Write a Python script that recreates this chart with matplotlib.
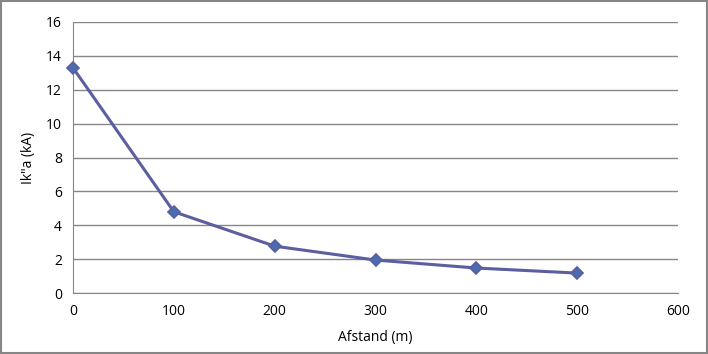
import matplotlib.pyplot as plt
from matplotlib.patches import Rectangle

afstand = [0, 100, 200, 300, 400, 500]
ik_a = [13.3, 4.8, 2.77, 1.95, 1.48, 1.18]
x_ticks = [0, 100, 200, 300, 400, 500, 600]
y_ticks = [0, 2, 4, 6, 8, 10, 12, 14, 16]

plt.rcParams['font.family'] = ['Open Sans', 'DejaVu Sans']

fig = plt.figure(figsize=(7.08, 3.54), dpi=100)
ax = fig.add_axes([0.103, 0.172, 0.855, 0.766])

ax.plot(afstand, ik_a, color='#5b5ea0', linewidth=2.2,
        marker='D', markersize=6.5, markerfacecolor='#4a6db0',
        markeredgecolor='#5b5ea0', markeredgewidth=1.2, zorder=3,
        clip_on=False)

ax.set_xlim(0, 600)
ax.set_ylim(0, 16)
ax.set_xticks(x_ticks)
ax.set_yticks(y_ticks)
ax.yaxis.grid(True, color='#868686', linewidth=1)
ax.set_axisbelow(True)
for s in ['top', 'right']:
    ax.spines[s].set_visible(False)
for s in ['left', 'bottom']:
    ax.spines[s].set_color('#868686')
ax.tick_params(length=0, labelsize=10, pad=8)
ax.set_xlabel('Afstand (m)', fontsize=10, labelpad=8)
ax.set_ylabel('Ik"a (kA)', fontsize=10, labelpad=7)

# ramme om hele figuren
fig.patches.append(Rectangle((0.001, 0.002), 0.997, 0.995, transform=fig.transFigure,
                             fill=False, edgecolor='#868686', linewidth=1.5))

fig.savefig('out.png', dpi=100)
